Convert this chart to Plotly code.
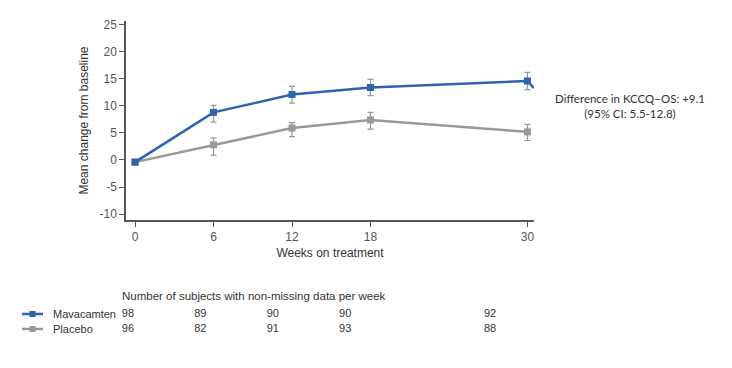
import plotly.graph_objects as go

weeks = [0, 6, 12, 18, 30]
mava_mean = [-0.4, 8.8, 12.1, 13.4, 14.6]
mava_hi = [0.0, 10.1, 13.6, 14.9, 16.2]
mava_lo = [0.0, 7.0, 10.5, 11.9, 13.0]
plac_mean = [-0.4, 2.8, 5.9, 7.4, 5.2]
plac_hi = [0.0, 4.1, 6.9, 8.8, 6.6]
plac_lo = [0.0, 0.9, 4.3, 5.7, 3.6]
n_mava = [98, 89, 90, 90, 92]
n_plac = [96, 82, 91, 93, 88]
series_names = ["Mavacamten", "Placebo"]
x_ticks = [0, 6, 12, 18, 30]
y_ticks = [-10, -5, 0, 5, 10, 15, 20, 25]

BLUE = "#2F62AF"
GRAY = "#999999"
ERR = "#999999"
TXT = "#555555"
FONT = "Liberation Sans, Arial, sans-serif"

W, H = 724, 360
T, B = 13, 12
plot_h = H - T - B
main_bottom = (H - B - 212) / plot_h

fig = go.Figure()

def err(mean, hi, lo):
    return ([h - m if h else 0 for m, h in zip(mean, hi)],
            [m - l if l else 0 for m, l in zip(mean, lo)])

for name, mean, hi, lo, col in [
    (series_names[1], plac_mean, plac_hi, plac_lo, GRAY),
    (series_names[0], mava_mean, mava_hi, mava_lo, BLUE),
]:
    up, dn = err(mean, hi, lo)
    fig.add_trace(go.Scatter(
        x=weeks, y=mean, mode="lines+markers", name=name,
        line=dict(color=col, width=2.5),
        marker=dict(symbol="square", size=7, color=col),
        error_y=dict(type="data", array=up, arrayminus=dn, visible=True,
                     color=ERR, thickness=1.2, width=3),
        xaxis="x", yaxis="y", showlegend=False,
    ))

# connector line leaving the last Mavacamten point toward the annotation
fig.add_shape(type="line", xref="x", yref="y", x0=30, y0=mava_mean[-1],
              x1=30.5, y1=13.3, line=dict(color=BLUE, width=2.5))

# table of counts on a hidden axis
tx_rows = [(series_names[0], n_mava, BLUE, 1), (series_names[1], n_plac, GRAY, 0)]
for name, counts, col, row in tx_rows:
    fig.add_trace(go.Scatter(
        x=weeks, y=[row] * len(weeks), mode="text",
        text=[str(c) for c in counts], textposition="middle center",
        textfont=dict(family=FONT, size=11, color="#333333"),
        xaxis="x2", yaxis="y2", showlegend=False, hoverinfo="skip",
    ))
    fig.add_trace(go.Scatter(
        x=[-8.78, -7.04], y=[row, row], mode="lines",
        line=dict(color=col, width=2.5),
        xaxis="x2", yaxis="y2", showlegend=False, hoverinfo="skip",
    ))
    fig.add_trace(go.Scatter(
        x=[-7.91], y=[row], mode="markers",
        marker=dict(symbol="square", size=6, color=col),
        xaxis="x2", yaxis="y2", showlegend=False, hoverinfo="skip",
    ))
    fig.add_annotation(x=-6.38, y=row, xref="x2", yref="y2", text=name,
                       showarrow=False, xanchor="left", yanchor="middle",
                       font=dict(family=FONT, size=11, color="#333333"))

fig.add_annotation(x=-0.66, y=2.2, xref="x2", yref="y2",
                   text="Number of subjects with non-missing data per week",
                   showarrow=False, xanchor="left", yanchor="middle",
                   font=dict(family=FONT, size=11.5, color="#333333"))

fig.add_annotation(x=622 / W, y=10.0, xref="paper", yref="y",
                   text="Difference in KCCQ–OS: +9.1<br>(95% CI: 5.5-12.8)",
                   showarrow=False, xanchor="center", yanchor="middle",
                   align="center", font=dict(family="Lato, sans-serif", size=11.5, color="#333333"))

fig.update_layout(
    width=W, height=H,
    margin=dict(l=0, r=0, t=T, b=B, autoexpand=False),
    plot_bgcolor="white", paper_bgcolor="white",
    xaxis=dict(domain=[118 / W, 526 / W], range=[-0.69, 30.5], automargin=False,
               tickvals=x_ticks, ticktext=[str(v) for v in x_ticks],
               ticks="outside", ticklen=5, tickcolor="#555555",
               showline=True, linecolor="#555555", linewidth=1.5, showgrid=False,
               zeroline=False, tickfont=dict(family=FONT, size=12, color=TXT),
               title=dict(text="Weeks on treatment", standoff=5,
                          font=dict(family=FONT, size=12, color="#333333")),
               anchor="y"),
    yaxis=dict(domain=[main_bottom, 1], range=[-11.1, 25.7], automargin=False,
               tickvals=y_ticks, ticktext=[str(v) for v in y_ticks],
               ticks="outside", ticklen=5, tickcolor="#555555",
               showline=True, linecolor="#555555", linewidth=1.5, showgrid=False,
               zeroline=False, tickfont=dict(family=FONT, size=12, color=TXT),
               title=dict(text="Mean change from baseline", standoff=8,
                          font=dict(family=FONT, size=12, color="#333333")),
               anchor="x"),
    xaxis2=dict(domain=[0, 1], range=[-9.94, 50.05], visible=False, automargin=False,
                anchor="y2", fixedrange=True),
    yaxis2=dict(domain=[0, main_bottom], range=[-1.8, 7.267], visible=False,
                automargin=False, anchor="x2", fixedrange=True),
)

fig.write_html("out.html")
